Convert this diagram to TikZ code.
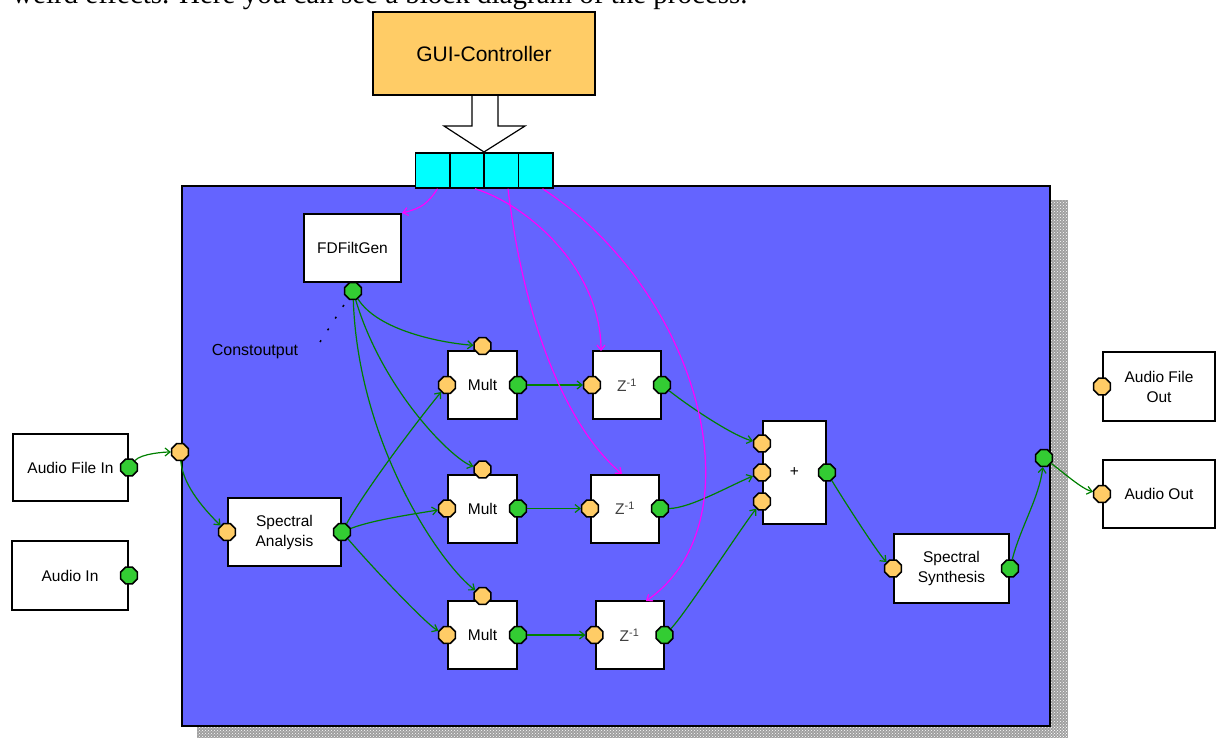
\documentclass[tikz,border=0pt]{standalone}
\usepackage{fontspec}
\setmainfont{Liberation Sans}
\newfontfamily\headfont{Liberation Serif}
\usetikzlibrary{shapes.geometric,arrows.meta,patterns}
\definecolor{guiyellow}{RGB}{255,204,102}
\definecolor{portorange}{RGB}{255,204,102}
\definecolor{portgreen}{RGB}{51,204,51}
\definecolor{boardblue}{RGB}{100,100,255}
\definecolor{wiregreen}{RGB}{0,128,0}
\definecolor{regcyan}{RGB}{0,255,255}
\definecolor{ctrlpink}{RGB}{255,0,255}
\tikzset{
  block/.style={draw,fill=white,line width=2pt,inner sep=0pt,align=center,font=\fontsize{15.5}{20}\selectfont},
  inport/.style={regular polygon,regular polygon sides=8,minimum size=18pt,inner sep=0pt,draw,line width=1.5pt,fill=portorange},
  outport/.style={inport,fill=portgreen},
  wire/.style={->,wiregreen,line width=1.2pt},
  ctrl/.style={->,ctrlpink,line width=1.2pt},
}

\begin{document}
\begin{tikzpicture}[x=1pt,y=-1pt,>={Straight Barb[length=5pt,width=8pt]}]
\clip (0,0) rectangle (1216,738);
% text line cut off by the top edge
\node[anchor=base west,inner sep=0pt,font=\headfont\fontsize{29}{33}\selectfont] (caption) at (12,4) {weird effects. Here you can see a block diagram of the process.};

% board with its shadow
\fill[gray!75] (1050,200) rectangle (1068,738);
\fill[gray!75] (197,726) rectangle (1068,738);
\fill[pattern=crosshatch dots,pattern color=white] (1050,200) rectangle (1068,738);
\fill[pattern=crosshatch dots,pattern color=white] (197,726) rectangle (1068,738);
\draw[fill=boardblue,line width=1.5pt] (182,186) rectangle (1050,726);

% controller and parameter register
\draw[fill=white,line width=1.2pt] (472,95) -- (472,126) -- (444,126) -- (484,152) -- (525,126) -- (498,126) -- (498,95);
\node[block,fill=guiyellow,line width=1.5pt,minimum width=222pt,minimum height=83pt,font=\fontsize{21}{25}\selectfont] (gui) at (484,53.5) {GUI-Controller};
\foreach \i/\x in {1/432.5,2/467,3/501,4/535.5}
  \node[draw,fill=regcyan,line width=1.5pt,minimum width=34.5pt,minimum height=35pt,inner sep=0pt] (r\i) at (\x,170.5) {};

% blocks
\node[block,minimum width=97pt,minimum height=68pt] (fdf) at (352.5,248) {FDFiltGen};
\node[block,minimum width=115pt,minimum height=67pt] (afin) at (70.5,467.5) {Audio File In};
\node[block,minimum width=116pt,minimum height=69pt] (ain) at (70,575.5) {Audio In};
\node[block,minimum width=113pt,minimum height=68pt] (sa) at (284.5,532) {Spectral\\Analysis};
\foreach \i/\y/\zx in {1/385/627,2/508.5/625,3/635/629.5} {
  \node[block,minimum width=69pt,minimum height=68pt] (m\i) at (482.5,\y) {Mult};
  \node[block,minimum width=68pt,minimum height=68pt,text=darkgray] (z\i) at (\zx,\y) {Z\textsuperscript{-1}};
  \node[inport,yshift=4pt] (m\i t) at (m\i.north) {};
  \node[inport] (m\i i) at (m\i.west) {};
  \node[outport] (m\i o) at (m\i.east) {};
  \node[inport] (z\i i) at (z\i.west) {};
  \node[outport] (z\i o) at (z\i.east) {};
}
\node[block,minimum width=63pt,minimum height=103pt] (plus) at (794.5,472.5) {+};
\node[block,minimum width=115pt,minimum height=69pt] (ss) at (951.5,568.5) {Spectral\\Synthesis};
\node[block,minimum width=112pt,minimum height=69pt] (afout) at (1159,386.5) {Audio File\\Out};
\node[block,minimum width=112pt,minimum height=68pt] (aout) at (1159,494) {Audio Out};

% ports
\node[outport] (afino) at (afin.east) {};
\node[outport] (aino) at (ain.east) {};
\node[inport] (bin) at (180,452) {};
\node[outport] (fdfo) at (353,291) {};
\node[inport] (sai) at (sa.west) {};
\node[outport] (sao) at (sa.east) {};
\foreach \j/\s in {1/29,2/0,3/-29}
  \node[inport,yshift=\s pt] (p\j) at (plus.west) {};
\node[outport] (po) at (plus.east) {};
\node[inport] (ssi) at (ss.west) {};
\node[outport] (sso) at (ss.east) {};
\node[outport] (bout) at (1044,458) {};
\node[inport] (afouti) at (afout.west) {};
\node[inport] (aouti) at (aout.west) {};

% constant output note
\node[font=\fontsize{16}{20}\selectfont,inner sep=1pt] (cout) at (255,352) {Constoutput};
\coordinate (cdot) at (320,342);
\draw[line width=1.5pt,dash pattern=on 2pt off 12pt] (cdot) -- (fdfo);

% signal wires
\draw[wire] (afino) .. controls +(12,-14) and +(-15,0) .. (bin);
\draw[wire] (bin) .. controls +(3,35) and +(-20,-20) .. (sai);
\draw[wire] (sao) .. controls +(25,-45) and +(-25,30) .. (m1i);
\draw[wire] (sao) .. controls +(30,-12) and +(-30,5) .. (m2i);
\draw[wire] (sao) .. controls +(30,35) and +(-20,-10) .. (m3i);
\draw[wire] (fdfo) .. controls +(25,40) and +(-40,-3) .. (m1t);
\draw[wire] (fdfo) .. controls +(30,100) and +(-30,-10) .. (m2t);
\draw[wire] (fdfo) .. controls +(5,150) and +(-45,-35) .. (m3t);
\foreach \i in {1,2,3} \draw[wire] (m\i o) -- (z\i i);
\draw[wire] (z1o) .. controls +(25,20) and +(-30,-8) .. (p1);
\draw[wire] (z2o) .. controls +(30,0) and +(-30,12) .. (p2);
\draw[wire] (z3o) .. controls +(20,-20) and +(-20,25) .. (p3);
\draw[wire] (po) .. controls +(15,25) and +(-15,-15) .. (ssi);
\draw[wire] (sso) .. controls +(10,-40) and +(-5,40) .. (bout);
\draw[wire] (bout) .. controls +(20,15) and +(-20,-5) .. (aouti);

% control lines from the register
\coordinate (z1top) at (601,351);
\coordinate (z2top) at (622,474);
\coordinate (z3top) at (646,601);
\draw[ctrl] ([xshift=5pt]r1.south) .. controls +(-10,15) and +(20,-5) .. (fdf.north east);
\draw[ctrl] ([xshift=8pt]r2.south) .. controls +(55,17) and +(0,-80) .. (z1top);
\draw[ctrl] ([xshift=7pt]r3.south) .. controls +(17,142) and +(-52,-44) .. (z2top);
\draw[ctrl] ([xshift=7pt]r4.south) .. controls +(157,102) and +(115,-80) .. (z3top);
\end{tikzpicture}
\end{document}
